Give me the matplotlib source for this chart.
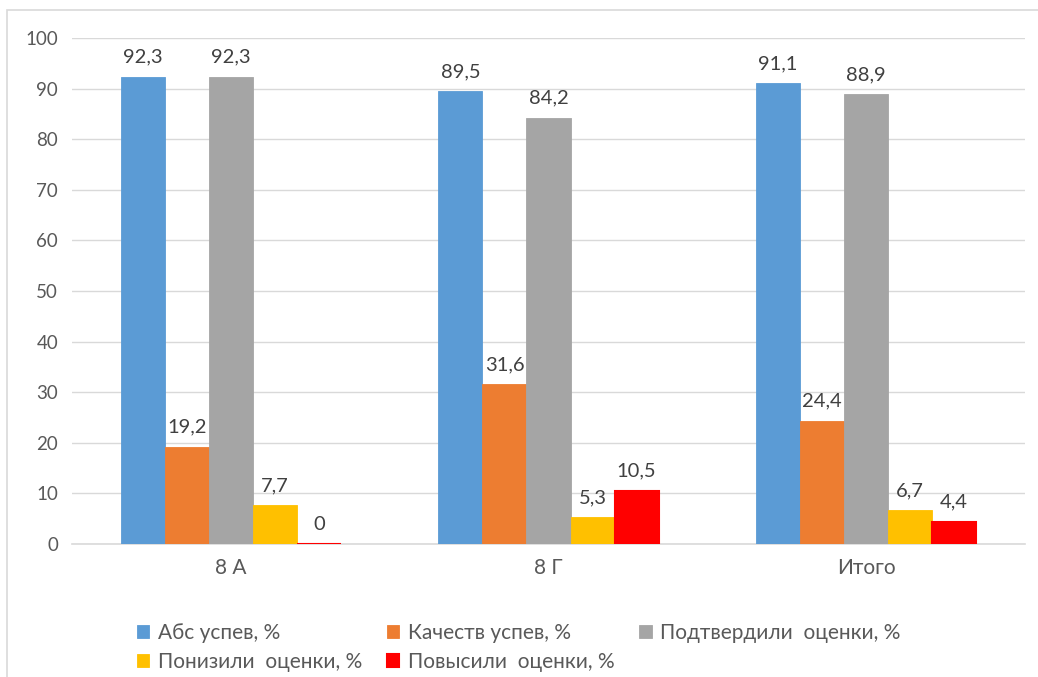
import matplotlib
matplotlib.use("Agg")
import matplotlib.pyplot as plt
from matplotlib.patches import Rectangle
import numpy as np

plt.rcParams['font.family'] = ['Lato', 'DejaVu Sans']

categories = ["8 А", "8 Г", "Итого"]
series_names = ["Абс успев, %", "Качеств успев, %", "Подтвердили  оценки, %",
                "Понизили  оценки, %", "Повысили  оценки, %"]
abs_usp = [92.3, 89.5, 91.1]
kach_usp = [19.2, 31.6, 24.4]
podtv = [92.3, 84.2, 88.9]
ponizili = [7.7, 5.3, 6.7]
povysili = [0, 10.5, 4.4]
values = [abs_usp, kach_usp, podtv, ponizili, povysili]
colors = ["#5B9BD5", "#ED7D31", "#A5A5A5", "#FFC000", "#FF0000"]

fig = plt.figure(figsize=(10.38, 6.77), dpi=100)
ax = fig.add_axes([72/1038, 1-544/677, (1025-72)/1038, (544-38)/677])

# рамка вокруг диаграммы
fig.patches.append(Rectangle((7/1038, -0.2), 1.2, 1.2 - 10/677, transform=fig.transFigure,
                             fill=False, edgecolor="#D9D9D9", linewidth=1.2))

x = np.arange(len(categories))
w = 0.1386
handles = []
for i, (name, vals, c) in enumerate(zip(series_names, values, colors)):
    pos = x + (i - 2) * w
    lw = 1.5 if i == 4 else 0.6
    b = ax.bar(pos, vals, w, color=c, edgecolor=c, linewidth=lw, label=name, zorder=3)
    handles.append(b)
    for p, v in zip(pos, vals):
        ax.text(p, v + 2.2, f"{v:g}".replace(".", ","), ha="center", va="bottom",
                fontsize=14.5, color="#404040")

ax.set_xlim(-0.5, 2.5)
ax.set_ylim(0, 100)
ax.set_yticks(range(0, 101, 10))
ax.set_xticks(x)
ax.set_xticklabels(categories)
ax.grid(axis="y", color="#D9D9D9", linewidth=1, zorder=0)
for s in ["top", "right", "left"]:
    ax.spines[s].set_visible(False)
ax.spines["bottom"].set_color("#D9D9D9")
ax.spines["bottom"].set_linewidth(1.2)
ax.spines["bottom"].set_zorder(2)
ax.tick_params(axis="both", length=0, labelcolor="#595959")
ax.tick_params(axis="y", pad=10, labelsize=13.5)
ax.tick_params(axis="x", pad=10, labelsize=15)

order = [0, 3, 1, 4, 2]
leg = fig.legend([handles[i] for i in order], [series_names[i] for i in order],
                 ncol=3, loc="upper left", bbox_to_anchor=(118/1038, 1-604/677),
                 frameon=False, fontsize=15, handlelength=0.6, handleheight=0.6,
                 handletextpad=0.4, columnspacing=1.2, labelspacing=0.45)
for t in leg.get_texts():
    t.set_color("#595959")

fig.savefig("out.png", dpi=100)
